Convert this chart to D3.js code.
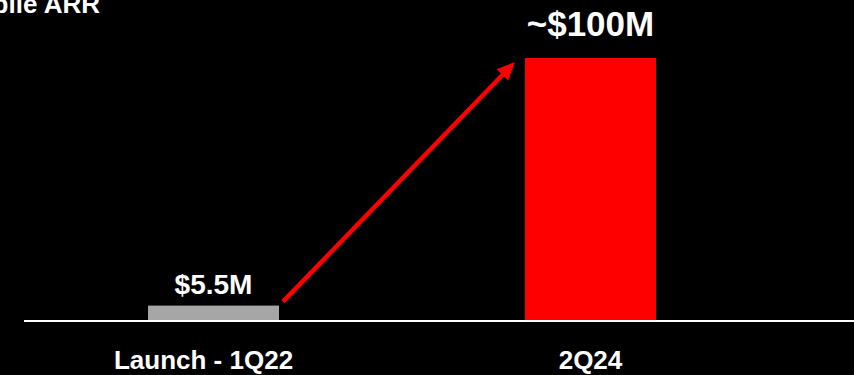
<!DOCTYPE html>
<html>
<head>
<meta charset="utf-8">
<script src="https://cdn.jsdelivr.net/npm/d3@7"></script>
<style>
  html, body { margin: 0; padding: 0; background: #000; }
  svg { display: block; }
  text { font-family: "Liberation Sans", Arial, Helvetica, sans-serif; font-weight: bold; fill: #fff; }
</style>
</head>
<body>
<svg id="chart" width="854" height="375"></svg>
<script>
// Mobile ARR growth
const categories = ["Launch - 1Q22", "2Q24"];
const arrValues = [5.5, 100];            // $M
const valueLabels = ["$5.5M", "~$100M"];
const barColors = ["#a6a6a6", "#ff0000"];
const labelSizes = [28, 35];
const labelGaps = [12, 22];

const W = 854, H = 375;
const svg = d3.select("#chart");
svg.append("rect").attr("width", W).attr("height", H).attr("fill", "#000");

const x = d3.scaleBand()
  .domain(categories)
  .range([24, 780])
  .paddingInner(0.6525)
  .paddingOuter(0.329);

const y = d3.scaleLinear().domain([0, 100]).range([320, 58]);

// title (runs off the left edge)
svg.append("text")
  .attr("x", 100).attr("y", 13)
  .attr("text-anchor", "end")
  .attr("font-size", 26)
  .text("Mobile ARR");

// bars
svg.selectAll("rect.bar")
  .data(categories)
  .join("rect")
  .attr("class", "bar")
  .attr("x", d => x(d))
  .attr("width", x.bandwidth())
  .attr("y", (d, i) => y(arrValues[i]))
  .attr("height", (d, i) => y(0) - y(arrValues[i]))
  .attr("fill", (d, i) => barColors[i]);

// baseline
svg.append("line")
  .attr("x1", 24).attr("x2", W)
  .attr("y1", y(0) + 1).attr("y2", y(0) + 1)
  .attr("stroke", "#fff").attr("stroke-width", 2);

// value labels
svg.selectAll("text.val")
  .data(categories)
  .join("text")
  .attr("class", "val")
  .attr("x", d => x(d) + x.bandwidth() / 2)
  .attr("y", (d, i) => y(arrValues[i]) - labelGaps[i])
  .attr("text-anchor", "middle")
  .attr("font-size", (d, i) => labelSizes[i])
  .text((d, i) => valueLabels[i]);

// category labels
const xAxis = d3.axisBottom(x).tickSize(0).tickPadding(0);
const axisG = svg.append("g")
  .attr("transform", `translate(0,${y(0)})`)
  .call(xAxis);
axisG.select(".domain").remove();
axisG.selectAll("text")
  .attr("font-size", 26)
  .attr("fill", "#fff")
  .attr("dy", 0)
  .attr("y", 49)
  .attr("dx", (d, i) => i === 0 ? -10 : 0)
  .style("font-family", '"Liberation Sans", Arial, sans-serif')
  .style("font-weight", "bold");

// growth arrow
const x0 = x(categories[0]) + x.bandwidth() + 4, y0 = y(arrValues[0]) - 4;
const x1 = x(categories[1]) - 10, y1 = y(arrValues[1]) + 4;
const ang = Math.atan2(y1 - y0, x1 - x0);
const headLen = 18, headHalf = 8;
const bx = x1 - headLen * Math.cos(ang), by = y1 - headLen * Math.sin(ang);
svg.append("line")
  .attr("x1", x0).attr("y1", y0)
  .attr("x2", bx + 2 * Math.cos(ang)).attr("y2", by + 2 * Math.sin(ang))
  .attr("stroke", "#ff0000").attr("stroke-width", 4.5);
const px = -Math.sin(ang), py = Math.cos(ang);
svg.append("path")
  .attr("d", d3.line()([
    [x1, y1],
    [bx + headHalf * px, by + headHalf * py],
    [bx - headHalf * px, by - headHalf * py]
  ]) + "Z")
  .attr("fill", "#ff0000");
</script>
</body>
</html>
